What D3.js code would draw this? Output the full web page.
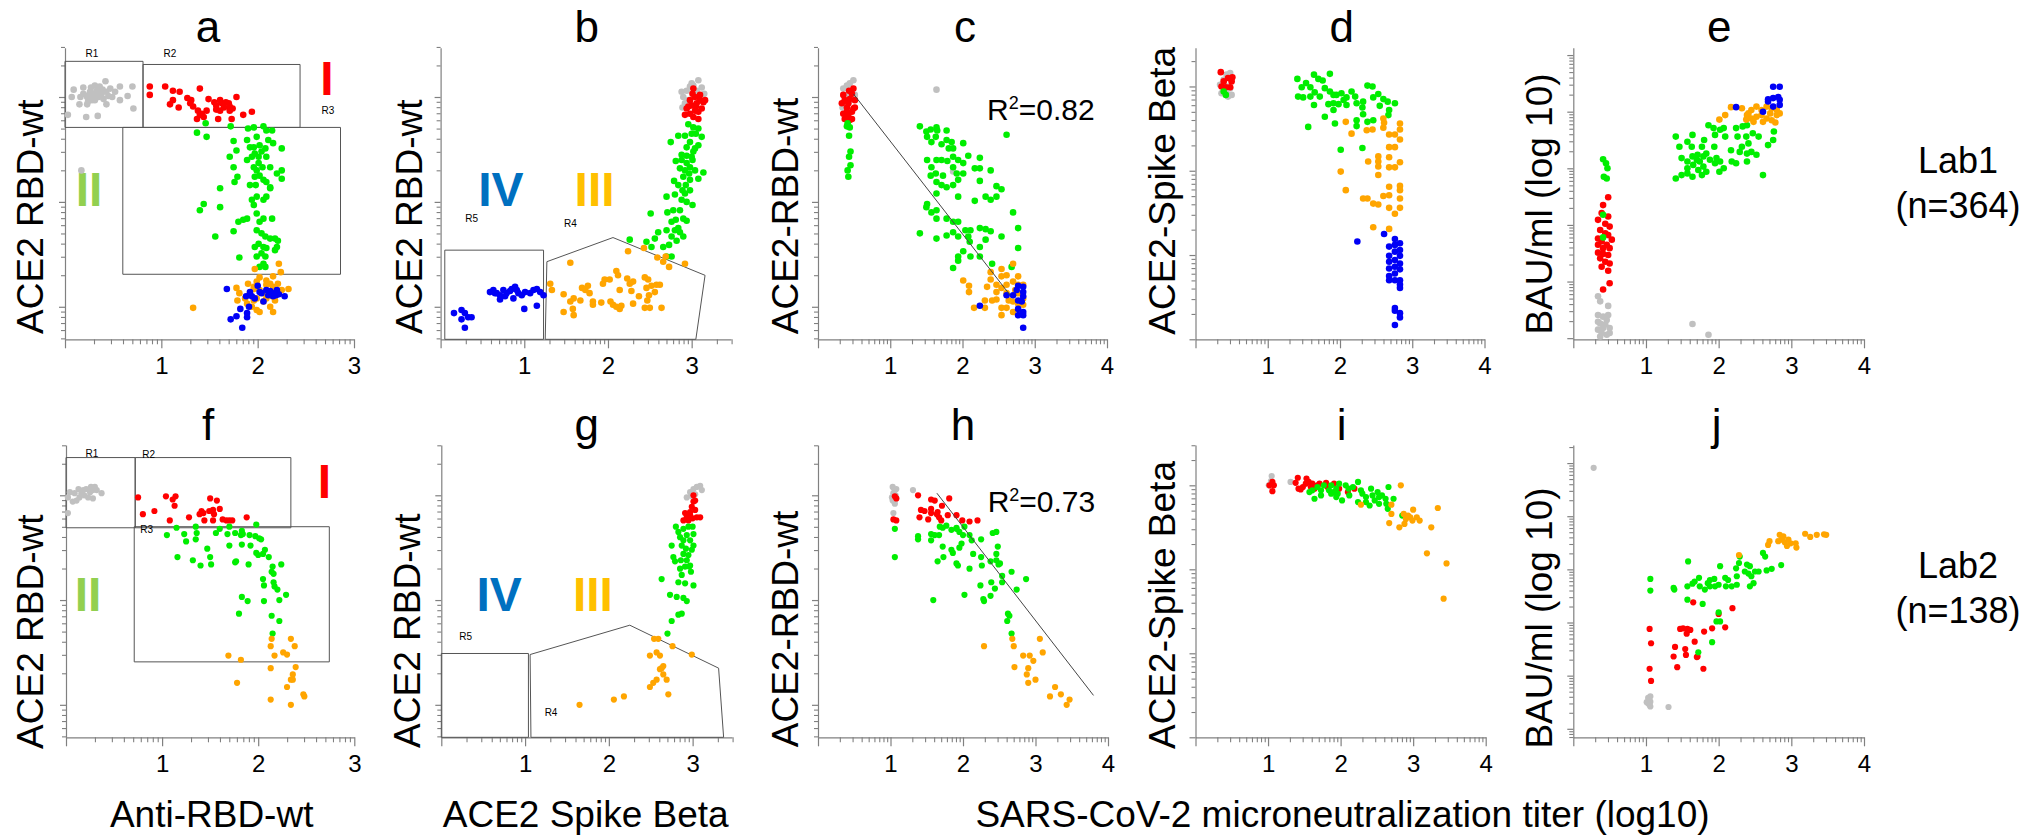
<!DOCTYPE html>
<html><head><meta charset="utf-8">
<script src="https://cdn.jsdelivr.net/npm/d3@7"></script>
<style>
body{margin:0;background:#fff}
svg{display:block}
text{font-family:"Liberation Sans",Arial,sans-serif;fill:#000}
</style>
</head><body>
<svg id="chart" width="2026" height="837"></svg>
<script>
// ---------------- DATA (log10 units) ----------------
// Panel a: Anti-RBD-wt (x) vs ACE2 RBD-wt (y), Lab1
const a_gray=[[0.03,2.83],[0.09,3.07],[0.07,3.00],[0.16,3.00],[0.15,2.93],[0.19,3.09],[0.22,2.81],[0.23,2.93],[0.25,3.02],[0.27,3.09],[0.29,3.03],[0.31,2.97],[0.33,3.06],[0.35,3.00],[0.36,3.10],[0.38,3.03],[0.42,3.15],[0.43,2.93],[0.34,2.82],[0.43,3.05],[0.47,3.08],[0.49,3.00],[0.52,3.05],[0.57,3.10],[0.57,2.97],[0.65,3.01],[0.70,3.10],[0.71,2.89],[0.23,3.00],[0.19,3.03],[0.28,2.97],[0.40,2.98],[0.31,3.11],[0.26,3.05],[0.30,3.00],[0.32,3.04],[0.28,2.99],[0.36,3.02],[0.24,2.96],[0.39,3.07],[0.45,3.01],[0.17,2.30]];
const a_red=[[0.88,3.10],[0.88,3.02],[1.04,3.10],[1.12,3.06],[1.19,3.05],[1.09,2.93],[1.12,2.97],[1.18,2.90],[1.27,2.99],[1.31,2.97],[1.33,2.91],[1.40,3.08],[1.40,2.83],[1.37,2.79],[1.38,2.87],[1.42,2.84],[1.49,2.98],[1.55,2.95],[1.57,2.92],[1.59,2.79],[1.61,2.97],[1.63,2.94],[1.65,2.90],[1.67,2.95],[1.71,2.91],[1.71,2.87],[1.73,2.79],[1.74,2.89],[1.78,3.00],[1.85,2.83],[1.94,2.86],[1.30,2.94],[1.44,2.81],[1.61,2.87],[1.70,2.94],[1.47,2.87],[1.57,2.88]];
const a_green=[[1.37,2.66],[1.46,2.75],[1.47,2.62],[1.72,2.72],[1.75,2.58],[1.90,2.70],[1.96,2.71],[2.06,2.72],[2.09,2.68],[2.15,2.68],[1.89,2.59],[1.99,2.62],[2.02,2.54],[1.92,2.52],[2.08,2.51],[2.11,2.59],[2.16,2.56],[2.25,2.51],[1.71,2.43],[1.78,2.49],[1.89,2.40],[1.94,2.43],[1.97,2.46],[2.01,2.37],[2.09,2.43],[2.13,2.33],[2.20,2.27],[2.25,2.30],[2.25,2.22],[1.75,2.33],[1.79,2.24],[1.76,2.19],[1.96,2.33],[1.99,2.30],[1.97,2.24],[2.02,2.25],[2.06,2.21],[2.09,2.19],[2.13,2.13],[1.92,2.16],[1.94,2.02],[1.99,2.05],[2.06,2.02],[2.09,2.05],[2.13,2.14],[1.61,2.13],[1.44,1.98],[1.40,1.92],[1.61,1.95],[1.96,1.97],[1.99,1.89],[2.02,1.81],[1.85,1.83],[1.80,1.81],[1.89,1.84],[1.75,1.72],[1.56,1.67],[2.06,1.84],[2.15,1.84],[1.99,1.73],[2.04,1.70],[2.08,1.67],[2.13,1.65],[2.18,1.65],[2.21,1.63],[2.01,1.60],[2.06,1.57],[2.09,1.56],[2.18,1.54],[1.97,1.57],[2.20,1.57],[1.99,1.48],[2.08,1.48],[1.81,1.47],[2.06,1.41],[2.02,1.38],[2.08,1.38],[2.04,1.51],[1.96,2.52],[2.01,2.43],[2.04,2.48],[2.05,2.33],[1.98,2.16]];
const a_orange=[[2.22,1.41],[2.24,1.33],[2.16,1.29],[2.02,1.28],[1.97,1.36],[1.90,1.22],[1.96,1.19],[2.09,1.21],[2.16,1.19],[2.21,1.22],[2.32,1.17],[1.78,1.18],[1.81,1.13],[1.79,1.06],[1.87,1.08],[1.92,1.13],[1.96,1.06],[1.99,1.08],[2.06,1.05],[2.09,1.08],[2.15,1.10],[2.02,1.16],[2.06,1.13],[1.94,1.00],[1.99,0.97],[2.02,0.95],[2.13,1.00],[2.16,0.95],[1.89,1.03],[1.96,1.17],[2.09,1.25],[2.18,1.06],[2.25,1.16],[2.13,1.22],[1.99,1.24],[1.33,0.99]];
const a_blue=[[1.68,1.17],[1.72,0.88],[1.78,0.91],[1.82,0.98],[1.84,0.80],[1.89,0.90],[1.89,0.94],[1.88,1.10],[1.92,1.14],[2.00,1.20],[2.02,1.14],[2.04,1.13],[2.09,1.16],[2.11,1.11],[2.15,1.13],[2.16,1.10],[2.20,1.16],[2.22,1.12],[2.28,1.10],[1.94,1.10],[1.97,1.08],[1.91,1.00],[2.06,1.05],[2.13,1.15],[2.19,1.11]];
// Panel b: ACE2 Spike Beta (x) vs ACE2 RBD-wt (y), Lab1
const b_gray=[[2.88,3.05],[2.90,3.00],[2.94,3.06],[2.98,3.10],[3.02,3.11],[3.08,3.16],[3.12,3.09],[3.15,3.03],[2.92,2.94],[2.89,2.90],[3.10,2.97],[2.96,2.97],[3.06,3.06],[3.02,3.03],[3.00,3.13]];
const b_red=[[3.02,3.08],[3.04,3.00],[2.98,2.97],[3.00,2.92],[3.06,2.94],[3.10,2.97],[3.14,2.95],[2.94,2.89],[2.98,2.84],[3.02,2.81],[3.08,2.86],[3.12,2.89],[2.92,2.83],[3.04,2.87],[3.08,2.79],[3.16,2.97],[3.01,3.03],[2.96,2.91],[3.10,3.02],[3.05,2.91]];
const b_green=[[2.96,2.74],[3.02,2.71],[3.08,2.70],[3.12,2.62],[3.00,2.65],[2.92,2.63],[2.84,2.63],[2.75,2.57],[2.98,2.57],[3.04,2.51],[3.08,2.54],[2.94,2.52],[2.88,2.45],[2.94,2.44],[3.00,2.43],[3.02,2.48],[2.81,2.39],[2.88,2.40],[2.94,2.37],[2.98,2.33],[2.86,2.32],[2.92,2.30],[3.04,2.30],[3.14,2.28],[3.08,2.22],[2.90,2.24],[2.98,2.21],[2.79,2.20],[2.84,2.16],[2.93,2.16],[2.89,2.11],[2.80,2.07],[2.70,2.05],[2.88,2.02],[2.94,2.00],[3.01,1.97],[2.78,1.92],[2.71,1.90],[2.51,1.89],[2.86,1.92],[2.90,1.84],[2.94,1.82],[2.81,1.83],[2.76,1.81],[2.70,1.73],[2.80,1.73],[2.86,1.71],[2.90,1.67],[2.76,1.67],[2.82,1.63],[2.60,1.71],[2.56,1.65],[2.52,1.57],[2.46,1.62],[2.66,1.57],[2.73,1.59],[2.26,1.64],[2.70,1.48],[2.76,1.48],[2.84,1.75],[2.98,2.11],[2.92,2.08],[2.97,2.27],[3.01,2.40],[3.05,2.65]];
const b_orange=[[2.24,1.53],[2.43,1.56],[2.59,1.47],[2.69,1.48],[2.66,1.43],[2.73,1.38],[2.92,1.41],[1.55,1.42],[1.31,1.22],[1.33,1.16],[1.47,1.12],[1.55,1.05],[1.59,1.08],[1.67,1.06],[1.58,0.98],[1.47,0.95],[1.59,0.92],[1.69,1.18],[1.76,1.20],[1.78,1.13],[1.82,1.05],[1.82,1.02],[1.92,1.04],[1.96,1.26],[2.02,1.26],[2.10,1.34],[2.12,1.30],[2.03,1.05],[2.06,1.02],[2.10,1.00],[2.14,0.98],[2.16,1.01],[2.23,1.27],[2.26,1.22],[2.30,1.24],[2.14,1.16],[2.28,1.15],[2.37,1.10],[2.44,1.28],[2.48,1.26],[2.46,1.18],[2.52,1.20],[2.58,1.21],[2.62,1.21],[2.56,1.14],[2.49,1.11],[2.47,1.06],[2.44,0.99],[2.50,0.99],[2.64,0.99],[2.30,1.03],[1.94,1.22],[1.73,1.16]];
const b_blue=[[0.16,0.94],[0.25,0.97],[0.29,0.94],[0.25,0.88],[0.33,0.90],[0.37,0.90],[0.29,0.80],[0.59,1.14],[0.63,1.16],[0.67,1.13],[0.71,1.11],[0.75,1.16],[0.79,1.13],[0.83,1.15],[0.89,1.19],[0.91,1.16],[0.93,1.13],[0.97,1.11],[1.01,1.14],[1.07,1.13],[1.11,1.16],[1.15,1.17],[1.19,1.14],[1.23,1.11],[0.71,1.07],[0.87,1.08],[1.00,0.98],[1.15,1.01],[0.65,1.13],[0.77,1.10],[0.85,1.17]];
// Panel c: microneutralization titer (x) vs ACE2-RBD-wt (y), Lab1
const c_gray=[[0.35,3.08],[0.40,3.11],[0.44,3.13],[0.49,3.16],[0.37,3.00],[0.42,3.03],[0.47,3.06],[0.51,3.02],[0.34,2.90],[0.40,2.95],[0.44,2.97],[1.64,3.07],[1.87,2.29]];
const c_red=[[0.35,3.02],[0.37,2.97],[0.40,2.90],[0.42,2.94],[0.44,2.98],[0.47,3.03],[0.49,3.08],[0.51,2.97],[0.35,2.84],[0.37,2.79],[0.42,2.83],[0.47,2.86],[0.49,2.89],[0.44,2.78],[0.40,2.86],[0.51,2.90],[0.33,2.94],[0.47,2.79],[0.43,3.06]];
const c_green=[[0.41,2.75],[0.44,2.71],[0.43,2.63],[0.45,2.48],[0.43,2.43],[0.45,2.35],[0.41,2.30],[0.42,2.24],[0.40,2.72],[1.41,2.72],[1.50,2.67],[1.51,2.62],[1.56,2.69],[1.64,2.71],[1.65,2.68],[1.63,2.62],[1.78,2.68],[1.57,2.57],[1.71,2.55],[1.78,2.59],[1.85,2.57],[1.81,2.51],[1.87,2.51],[2.01,2.56],[1.51,2.40],[1.64,2.40],[1.71,2.40],[1.79,2.39],[1.87,2.43],[1.94,2.40],[2.01,2.37],[1.57,2.33],[1.63,2.27],[1.73,2.25],[1.87,2.33],[1.92,2.27],[2.01,2.27],[2.08,2.44],[2.24,2.42],[2.17,2.32],[2.24,2.32],[2.39,2.30],[1.56,2.25],[1.64,2.19],[1.71,2.16],[1.78,2.14],[1.87,2.16],[1.94,2.21],[1.94,2.05],[1.64,2.08],[1.51,1.98],[1.50,1.95],[1.57,1.90],[1.64,1.92],[1.64,1.84],[1.78,1.84],[1.87,1.81],[1.94,1.81],[1.78,1.68],[1.87,1.71],[1.94,1.67],[2.04,1.73],[2.11,1.73],[2.17,2.01],[2.32,2.05],[2.39,2.02],[2.47,2.05],[2.47,2.15],[2.54,2.12],[2.24,2.20],[2.24,1.75],[2.32,1.74],[2.39,1.72],[2.32,1.64],[2.08,1.67],[2.01,1.53],[1.94,1.48],[1.87,1.37],[1.94,1.44],[2.11,1.48],[2.24,1.57],[2.41,1.41],[2.54,1.67],[2.70,1.90],[2.77,1.75],[2.77,1.56],[2.68,1.38],[2.61,2.64],[1.41,1.70],[1.64,1.65],[2.10,1.62],[2.24,1.48]];
const c_orange=[[2.01,1.25],[2.09,1.20],[2.09,1.14],[2.16,0.99],[2.31,0.99],[2.31,1.06],[2.39,1.33],[2.39,1.26],[2.41,1.06],[2.47,1.07],[2.54,1.36],[2.54,1.29],[2.54,1.18],[2.54,0.99],[2.54,0.92],[2.61,1.30],[2.61,1.21],[2.61,1.13],[2.61,0.99],[2.70,1.41],[2.70,1.24],[2.70,1.05],[2.70,0.95],[2.77,1.29],[2.77,1.21],[2.77,1.13],[2.77,1.03],[2.84,1.21],[2.84,1.08],[2.84,1.02],[2.47,1.21],[2.34,1.19],[2.47,1.14],[2.64,1.06],[2.73,1.16]];
const c_blue=[[2.24,1.01],[2.61,1.11],[2.70,1.11],[2.77,1.20],[2.77,1.06],[2.77,0.98],[2.77,0.92],[2.84,1.19],[2.84,1.14],[2.84,1.10],[2.84,0.95],[2.84,0.92],[2.84,0.80],[2.75,1.16],[2.82,1.05]];
// Panel d: microneutralization titer (x) vs ACE2-Spike Beta (y), Lab1
const d_gray=[[0.34,4.02],[0.39,4.08],[0.43,4.14],[0.48,4.16],[0.50,4.08],[0.45,4.00],[0.41,3.96],[0.36,3.92],[0.50,3.90],[0.45,3.88],[0.39,4.04],[0.43,3.92],[0.48,3.98]];
const d_red=[[0.35,4.17],[0.39,4.06],[0.45,4.10],[0.50,4.06],[0.48,3.99],[0.42,3.99],[0.51,4.11],[0.36,4.00]];
const d_green=[[0.39,3.94],[0.42,3.90],[1.41,4.09],[1.47,3.99],[1.53,4.04],[1.59,3.99],[1.64,4.14],[1.70,4.09],[1.76,4.07],[1.86,4.15],[1.42,3.88],[1.49,3.87],[1.59,3.88],[1.65,3.93],[1.72,3.88],[1.79,3.98],[1.86,3.94],[1.91,3.90],[1.95,3.90],[2.02,3.92],[2.09,3.87],[2.16,3.94],[2.21,3.88],[1.84,3.79],[1.91,3.80],[1.98,3.79],[2.05,3.84],[2.09,3.78],[2.23,3.80],[2.32,3.82],[2.31,3.75],[2.38,4.01],[2.45,4.00],[2.46,3.87],[2.53,3.91],[2.60,3.85],[2.66,3.82],[2.76,3.80],[2.55,3.77],[2.68,3.72],[2.67,3.66],[2.32,3.67],[2.23,3.60],[2.23,3.53],[2.38,3.58],[2.46,3.60],[1.79,3.64],[1.93,3.56],[1.91,3.72],[1.56,3.52],[2.01,3.25],[2.31,3.27],[1.64,3.78]];
const d_orange=[[2.08,3.58],[2.16,3.44],[2.37,3.48],[2.45,3.49],[2.60,3.62],[2.60,3.51],[2.68,3.43],[2.76,3.43],[2.83,3.56],[2.83,3.49],[2.83,3.37],[2.68,3.28],[2.76,3.28],[2.53,3.17],[2.53,3.11],[2.39,3.11],[2.53,3.05],[2.53,2.95],[2.68,3.16],[2.68,3.04],[2.76,3.04],[2.83,3.10],[2.01,2.99],[2.08,2.77],[2.32,2.67],[2.38,2.67],[2.46,2.61],[2.53,2.60],[2.60,2.70],[2.68,2.81],[2.68,2.71],[2.68,2.56],[2.76,2.49],[2.83,2.82],[2.83,2.77],[2.83,2.67],[2.83,2.56],[2.46,2.33],[2.68,2.31],[2.61,3.57]];
const d_blue=[[2.24,2.16],[2.61,2.25],[2.76,2.19],[2.76,2.12],[2.83,2.14],[2.68,2.10],[2.83,2.06],[2.76,2.04],[2.68,1.99],[2.83,1.99],[2.76,1.94],[2.68,1.92],[2.83,1.90],[2.76,1.86],[2.68,1.84],[2.83,1.83],[2.76,1.78],[2.68,1.75],[2.76,1.70],[2.83,1.70],[2.68,1.70],[2.83,1.65],[2.83,1.61],[2.76,1.37],[2.76,1.34],[2.83,1.31],[2.83,1.26],[2.76,1.17]];
// Panel e: microneutralization titer (x) vs BAU/ml (y), Lab1
const e_gray=[[0.34,0.74],[0.37,0.65],[0.48,0.57],[0.34,0.41],[0.41,0.38],[0.46,0.32],[0.37,0.26],[0.44,0.24],[0.50,0.18],[0.34,0.15],[0.39,0.09],[0.46,0.06],[0.37,0.03],[0.50,0.09],[0.41,0.18],[0.48,0.41],[0.34,0.29],[1.64,0.25],[1.86,0.06]];
const e_red=[[0.48,2.49],[0.41,2.35],[0.39,2.21],[0.48,2.15],[0.34,2.09],[0.44,2.02],[0.50,1.97],[0.37,1.91],[0.44,1.85],[0.48,1.82],[0.34,1.76],[0.39,1.71],[0.46,1.65],[0.50,1.59],[0.34,1.51],[0.41,1.49],[0.48,1.47],[0.37,1.41],[0.44,1.35],[0.50,1.32],[0.39,1.26],[0.48,1.19],[0.41,0.86],[0.50,0.97],[0.34,1.65],[0.53,1.74],[0.41,1.59]];
const e_green=[[0.41,3.16],[0.45,3.09],[0.47,3.00],[0.42,2.85],[0.46,2.82],[0.41,2.18],[0.41,1.78],[1.41,3.56],[1.46,3.38],[1.57,3.47],[1.64,3.59],[1.63,3.38],[1.49,3.18],[1.57,3.12],[1.64,3.21],[1.71,3.24],[1.77,3.38],[1.80,3.50],[1.86,3.76],[1.93,3.71],[1.95,3.59],[2.02,3.68],[2.07,3.71],[2.09,3.56],[1.94,3.38],[1.83,3.26],[1.88,3.15],[1.95,3.09],[2.02,3.12],[2.01,2.94],[2.07,3.00],[2.17,3.32],[2.24,3.71],[2.26,3.56],[2.33,3.74],[2.38,3.56],[2.39,3.76],[2.32,3.38],[2.39,3.26],[2.47,3.62],[2.55,3.56],[2.45,3.29],[2.52,3.24],[2.24,3.09],[2.18,3.12],[2.39,3.12],[2.61,2.88],[2.68,3.41],[2.75,3.50],[2.76,3.65],[1.41,2.82],[1.49,2.88],[1.57,2.91],[1.64,2.85],[1.72,2.97],[1.77,2.88],[1.79,3.03],[1.83,2.94],[1.57,3.00],[1.65,3.06],[1.74,3.12],[1.97,3.18],[2.29,3.29],[2.41,3.44],[1.70,3.15],[1.79,3.21]];
const e_orange=[[2.01,3.86],[2.09,3.94],[2.17,4.08],[2.32,4.06],[2.39,3.94],[2.45,4.03],[2.52,4.09],[2.59,4.03],[2.66,4.09],[2.73,4.06],[2.80,4.03],[2.84,3.97],[2.38,3.86],[2.45,3.88],[2.52,3.91],[2.59,3.94],[2.66,3.88],[2.73,3.85],[2.80,3.94],[2.41,3.97],[2.48,3.82],[2.61,3.82],[2.78,3.81],[2.71,3.97]];
const e_blue=[[2.24,4.08],[2.61,4.00],[2.68,4.22],[2.75,4.24],[2.82,4.26],[2.84,4.21],[2.75,4.44],[2.84,4.44],[2.75,4.09],[2.84,4.12],[2.68,4.18]];
// Panel f: Anti-RBD-wt (x) vs ACE2 RBD-wt (y), Lab2
const f_gray=[[0.02,2.98],[0.02,2.83],[0.04,3.03],[0.09,3.02],[0.11,2.95],[0.14,2.98],[0.18,3.05],[0.19,3.00],[0.21,3.06],[0.25,3.03],[0.26,3.08],[0.28,3.05],[0.30,3.08],[0.28,2.97],[0.16,3.02],[0.13,3.06],[0.23,2.98],[0.37,3.02],[0.32,3.05],[0.07,2.94]];
const f_red=[[0.75,2.98],[0.80,2.82],[0.92,2.85],[1.04,2.99],[1.11,2.96],[1.13,2.90],[1.14,2.99],[1.08,2.76],[1.28,2.79],[1.39,2.82],[1.41,2.85],[1.44,2.76],[1.49,2.85],[1.50,2.97],[1.54,2.82],[1.57,2.95],[1.53,2.86],[1.60,2.87],[1.63,2.77],[1.67,2.76],[1.70,2.76],[1.73,2.76],[1.88,2.79],[1.53,2.76],[1.43,2.83]];
const f_green=[[1.05,2.62],[1.15,2.69],[1.23,2.63],[1.25,2.56],[1.35,2.70],[1.36,2.64],[1.35,2.58],[1.16,2.41],[1.32,2.38],[1.40,2.33],[1.47,2.49],[1.50,2.41],[1.51,2.34],[1.56,2.64],[1.60,2.68],[1.68,2.63],[1.70,2.52],[1.76,2.64],[1.82,2.62],[1.83,2.53],[1.77,2.37],[1.76,2.36],[1.90,2.34],[1.92,2.52],[1.91,2.62],[1.97,2.61],[1.98,2.72],[1.98,2.45],[2.01,2.59],[2.03,2.58],[2.00,2.43],[2.05,2.44],[2.11,2.41],[2.07,2.48],[2.05,2.20],[2.06,2.14],[2.15,2.32],[2.16,2.25],[2.14,2.27],[2.16,2.17],[2.17,2.13],[2.20,2.10],[2.24,2.34],[2.29,2.05],[2.22,2.00],[2.06,1.99],[1.83,2.03],[1.89,1.99],[1.80,1.87],[2.14,1.85],[2.22,1.80],[2.15,1.68],[1.84,2.63],[1.83,2.66],[1.70,2.70]];
const f_orange=[[2.14,1.63],[2.34,1.63],[2.13,1.56],[2.38,1.56],[2.17,1.47],[2.26,1.50],[2.30,1.48],[1.69,1.47],[1.82,1.43],[2.13,1.35],[2.39,1.36],[2.36,1.29],[2.34,1.24],[2.36,1.24],[2.30,1.17],[1.78,1.21],[2.13,1.05],[2.34,1.00],[2.47,1.10],[2.48,1.08]];
// Panel g: ACE2 Spike Beta (x) vs ACE2 RBD-wt (y), Lab2
const g_gray=[[2.93,2.98],[2.97,3.03],[3.01,3.06],[3.05,3.08],[3.09,3.09],[3.11,3.05],[3.03,3.01],[2.99,2.99]];
const g_red=[[3.01,3.00],[3.03,2.95],[2.99,2.89],[2.97,2.84],[3.03,2.86],[3.05,2.79],[2.93,2.79],[2.89,2.76],[2.95,2.76],[3.00,2.78],[3.09,2.79],[2.97,2.81],[3.01,2.94],[2.91,2.83]];
const g_green=[[2.80,2.70],[2.83,2.65],[2.89,2.68],[2.95,2.70],[3.00,2.70],[3.01,2.63],[2.93,2.62],[2.85,2.60],[2.97,2.57],[3.01,2.52],[2.75,2.52],[2.87,2.52],[2.92,2.49],[2.99,2.48],[2.95,2.43],[2.89,2.44],[2.77,2.41],[2.79,2.37],[2.86,2.38],[2.93,2.38],[2.97,2.33],[2.91,2.32],[2.85,2.30],[2.98,2.27],[2.87,2.24],[2.83,2.17],[2.91,2.16],[3.01,2.14],[2.63,2.20],[2.73,2.05],[2.81,2.03],[2.89,2.02],[2.93,1.99],[2.87,1.87],[2.83,1.86],[2.75,1.80],[2.70,1.68],[2.89,2.57],[2.96,2.32]];
const g_orange=[[2.54,1.63],[2.59,1.63],[2.76,1.56],[2.99,1.48],[2.57,1.50],[2.61,1.47],[2.49,1.47],[2.63,1.35],[2.65,1.37],[2.61,1.34],[2.65,1.29],[2.69,1.24],[2.57,1.24],[2.53,1.21],[2.49,1.17],[2.71,1.10],[2.18,1.08],[2.06,1.05],[1.65,1.00]];
// Panel h: microneutralization titer (x) vs ACE2-RBD-wt (y), Lab2
const h_gray=[[1.03,3.08],[1.06,3.05],[1.08,3.06],[1.04,3.02],[1.07,3.00],[1.03,2.95],[1.08,2.97],[1.06,2.92],[1.04,2.83],[1.31,3.05],[1.02,2.98]];
const h_red=[[1.06,2.99],[1.08,2.97],[1.04,2.77],[1.08,2.76],[1.38,3.00],[1.56,2.96],[1.61,2.95],[1.81,2.97],[1.71,2.90],[1.42,2.86],[1.47,2.85],[1.56,2.87],[1.56,2.83],[1.64,2.82],[1.67,2.79],[1.79,2.81],[1.40,2.79],[1.52,2.77],[1.70,2.76],[1.91,2.81],[1.99,2.76],[2.09,2.75],[2.20,2.76],[1.65,2.84]];
const h_green=[[1.06,2.68],[1.06,2.41],[1.38,2.61],[1.38,2.58],[1.56,2.63],[1.61,2.62],[1.68,2.70],[1.72,2.69],[1.77,2.71],[1.84,2.67],[1.91,2.69],[1.95,2.65],[2.00,2.62],[2.02,2.70],[1.56,2.57],[1.67,2.62],[1.72,2.51],[1.84,2.48],[1.86,2.45],[1.95,2.50],[1.98,2.54],[2.09,2.62],[2.12,2.57],[2.14,2.44],[1.73,2.41],[1.65,2.37],[1.91,2.35],[1.93,2.33],[2.09,2.30],[2.25,2.58],[2.25,2.41],[2.26,2.33],[2.38,2.37],[2.41,2.64],[2.46,2.65],[2.48,2.51],[2.46,2.44],[2.46,2.38],[2.49,2.34],[2.51,2.35],[2.54,2.23],[2.54,2.17],[2.39,2.17],[2.44,2.11],[2.24,2.14],[2.38,2.04],[2.28,2.01],[2.29,1.99],[2.02,2.05],[1.59,2.00],[2.67,2.27],[2.74,2.10],[2.87,2.20],[2.62,1.87],[2.64,1.85],[2.61,1.80],[2.67,1.68],[1.91,2.68]];
const h_orange=[[2.68,1.63],[3.06,1.63],[2.29,1.56],[2.70,1.56],[3.10,1.50],[2.83,1.47],[2.92,1.47],[2.97,1.42],[2.71,1.36],[2.90,1.35],[2.88,1.29],[2.90,1.21],[3.00,1.24],[3.27,1.17],[3.35,1.10],[3.47,1.05],[3.20,1.08],[3.43,1.00]];
// Panel i: microneutralization titer (x) vs ACE2-Spike Beta (y), Lab2
const i_gray=[[1.05,4.11],[1.04,4.05],[1.31,4.04],[1.01,4.00]];
const i_red=[[1.06,4.04],[1.08,4.00],[1.02,4.00],[1.06,3.93],[1.41,4.09],[1.53,4.08],[1.38,4.03],[1.45,3.95],[1.42,3.96],[1.52,4.02],[1.56,4.04],[1.61,4.02],[1.64,3.96],[1.68,4.00],[1.80,4.03],[1.91,4.02],[1.98,3.96],[2.10,3.92],[2.19,3.96],[1.48,3.98],[1.59,3.98],[1.71,4.02],[1.82,3.98]];
const i_green=[[1.57,3.92],[1.64,3.84],[1.61,3.94],[1.68,3.98],[1.73,3.94],[1.77,4.00],[1.84,3.94],[1.87,4.00],[1.90,3.92],[1.94,3.96],[1.96,3.90],[1.98,4.02],[2.02,3.82],[2.07,4.00],[2.11,3.96],[2.17,3.98],[2.24,4.04],[2.28,3.94],[2.30,3.90],[2.24,3.80],[2.35,3.86],[2.40,3.76],[2.42,3.96],[2.44,3.88],[2.47,3.82],[2.51,3.92],[2.53,3.86],[2.57,3.88],[2.62,3.84],[2.66,3.98],[2.73,3.84],[2.63,3.78],[2.65,3.72],[1.87,3.90],[1.94,3.86],[1.73,3.88],[2.12,3.88],[2.35,3.80],[2.53,3.78],[2.85,3.64]];
const i_orange=[[2.83,4.00],[2.28,3.77],[2.70,3.77],[2.70,3.66],[2.67,3.55],[2.87,3.66],[2.93,3.64],[2.90,3.60],[2.96,3.62],[3.00,3.71],[2.99,3.58],[3.05,3.62],[3.09,3.58],[2.88,3.54],[2.81,3.50],[3.34,3.73],[3.25,3.50],[3.19,3.19],[3.46,3.07],[3.42,2.65]];
// Panel j: microneutralization titer (x) vs BAU/ml (y), Lab2
const j_gray=[[1.03,0.58],[1.06,0.51],[1.05,0.45],[1.06,0.42],[1.03,0.48],[1.06,0.61],[1.31,0.41],[1.01,0.50],[0.28,4.91]];
const j_red=[[1.05,1.88],[1.07,1.61],[1.05,1.13],[1.07,0.90],[1.40,1.54],[1.38,1.36],[1.43,1.16],[1.54,1.50],[1.55,1.39],[1.47,1.88],[1.51,1.89],[1.57,1.88],[1.61,1.86],[1.56,1.79],[1.65,2.38],[1.67,1.64],[1.70,1.35],[1.71,1.36],[1.79,1.13],[1.80,1.83],[1.91,1.89],[2.00,2.16],[2.09,1.91],[2.19,2.27]];
const j_green=[[1.06,2.82],[1.06,2.60],[1.38,2.65],[1.39,2.62],[1.58,3.15],[1.57,2.68],[1.57,2.43],[1.64,2.73],[1.67,2.77],[1.73,2.84],[1.74,2.68],[1.78,2.35],[1.81,2.62],[1.85,2.74],[1.88,2.80],[1.94,2.82],[1.95,2.68],[2.00,2.71],[2.02,3.06],[2.09,2.84],[2.10,2.68],[2.13,2.80],[2.24,3.02],[2.25,2.87],[2.25,2.71],[2.28,3.12],[2.29,3.24],[2.36,2.96],[2.39,3.09],[2.41,2.92],[2.43,3.06],[2.45,2.87],[2.43,2.68],[2.48,2.74],[2.50,2.96],[2.55,2.96],[2.61,3.31],[2.64,3.24],[2.66,2.98],[2.73,3.01],[2.86,3.08],[2.00,2.19],[2.02,2.02],[1.97,2.02],[1.91,1.63],[1.72,1.44],[1.88,2.68],[2.18,2.68]];
const j_orange=[[2.28,3.27],[2.68,3.46],[2.70,3.53],[2.84,3.65],[2.87,3.56],[2.91,3.51],[2.96,3.56],[2.99,3.49],[2.94,3.44],[3.06,3.49],[3.07,3.41],[3.19,3.67],[3.26,3.61],[3.35,3.65],[3.45,3.66],[3.48,3.65],[2.82,3.53],[2.89,3.62]];

// Gates (data coordinates)
const a_gates=[[[0,2.71],[0.81,2.71],[0.81,3.34],[0,3.34]],[[0.81,2.71],[2.44,2.71],[2.44,3.31],[0.81,3.31]],[[0.60,1.31],[2.86,1.31],[2.86,2.71],[0.60,2.71]]];
const a_gateLabels=[["R1",0.28,3.41],["R2",1.09,3.41],["R3",2.73,2.875]];
const b_gates=[[[0.05,0.69],[1.23,0.69],[1.23,1.54],[0.05,1.54]],[[1.27,1.43],[2.06,1.66],[3.16,1.30],[3.05,0.69],[1.25,0.69]]];
const b_gateLabels=[["R5",0.37,1.84],["R4",1.55,1.79]];
const f_gates=[[[0,2.69],[0.72,2.69],[0.72,3.36],[0,3.36]],[[0.72,2.69],[2.34,2.69],[2.34,3.36],[0.72,3.36]],[[0.71,1.41],[2.74,1.41],[2.74,2.70],[0.71,2.70]]];
const f_gateLabels=[["R1",0.27,3.40],["R2",0.86,3.39],["R3",0.84,2.67]];
const g_gates=[[[0,0.69],[1.04,0.69],[1.04,1.49],[0,1.49]],[[1.06,1.48],[2.25,1.76],[3.31,1.35],[3.37,0.69],[1.07,0.69]]];
const g_gateLabels=[["R5",0.29,1.65],["R4",1.31,0.93]];
// Regression fits
const c_fit=[[0.49,3.03],[2.66,1.11]];
const h_fit=[[1.64,3.02],[3.80,1.09]];
const c_r2="0.82", h_r2="0.73";
// Group annotations: [text, color, x, y]
const a_groups=[["I","#ff0000",2.72,3.02],["II","#92d050",0.25,1.96]];
const b_groups=[["IV","#0070c0",0.72,1.96],["III","#ffc000",1.84,1.96]];
const f_groups=[["I","#ff0000",2.69,2.97],["II","#92d050",0.23,1.90]];
const g_groups=[["IV","#0070c0",0.69,1.90],["III","#ffc000",1.81,1.90]];
const xTickLabels3=["1","2","3"], xTickLabels4=["1","2","3","4"];

// ---------------- LAYOUT ----------------
const COLORS={gray:"#c0c0c0",red:"#ff0000",green:"#00ee00",orange:"#ffa500",blue:"#0000f5"};
const TOP=[339.3,47.7], BOT=[737.3,445];
const panels=[
 {id:"a",xr:[65,354],yr:TOP,xd:[0,3],yd:[0.69,3.47],r:3.3,title:[208,41.7],ylab:["ACE2 RBD-wt",43.3,216.7],labs:xTickLabels3,
  pts:{gray:a_gray,red:a_red,green:a_green,orange:a_orange,blue:a_blue},gates:a_gates,gl:a_gateLabels,groups:a_groups},
 {id:"b",xr:[440.6,731],yr:TOP,xd:[0,3.47],yd:[0.69,3.47],r:3.3,title:[586.7,41.7],ylab:["ACE2 RBD-wt",421.7,216.7],labs:xTickLabels3,
  pts:{gray:b_gray,red:b_red,green:b_green,orange:b_orange,blue:b_blue},gates:b_gates,gl:b_gateLabels,groups:b_groups},
 {id:"c",xr:[818,1107],yr:TOP,xd:[0,4],yd:[0.69,3.47],r:3.3,title:[965,41.7],ylab:["ACE2-RBD-wt",798.3,216],labs:xTickLabels4,
  pts:{gray:c_gray,red:c_red,green:c_green,orange:c_orange,blue:c_blue},fit:c_fit,r2:[c_r2,2.34,2.78]},
 {id:"d",xr:[1195.5,1484.5],yr:TOP,xd:[0,4],yd:[1,4.46],r:3.3,title:[1341.7,41.7],ylab:["ACE2-Spike Beta",1175,190.8],labs:xTickLabels4,
  pts:{gray:d_gray,red:d_red,green:d_green,orange:d_orange,blue:d_blue}},
 {id:"e",xr:[1573.3,1864],yr:TOP,xd:[0,4],yd:[-0.02,5.13],r:3.3,title:[1719.3,41.7],ylab:["BAU/ml (log 10)",1551.7,204],labs:xTickLabels4,
  pts:{gray:e_gray,red:e_red,green:e_green,orange:e_orange,blue:e_blue}},
 {id:"f",xr:[66,354.3],yr:BOT,xd:[0,3],yd:[0.69,3.48],r:3.1,title:[208,440],ylab:["ACE2 RBD-wt",43.3,631.7],labs:xTickLabels3,
  pts:{gray:f_gray,red:f_red,green:f_green,orange:f_orange},gates:f_gates,gl:f_gateLabels,groups:f_groups},
 {id:"g",xr:[441.3,732],yr:BOT,xd:[0,3.47],yd:[0.69,3.48],r:3.1,title:[586.7,440],ylab:["ACE2 RBD-wt",420,630.7],labs:xTickLabels3,
  pts:{gray:g_gray,red:g_red,green:g_green,orange:g_orange},gates:g_gates,gl:g_gateLabels,groups:g_groups},
 {id:"h",xr:[818,1108],yr:BOT,xd:[0,4],yd:[0.69,3.48],r:3.1,title:[963,440],ylab:["ACE2-RBD-wt",798,629],labs:xTickLabels4,
  pts:{gray:h_gray,red:h_red,green:h_green,orange:h_orange},fit:h_fit,r2:[h_r2,2.34,2.84]},
 {id:"i",xr:[1195.5,1485.7],yr:BOT,xd:[0,4],yd:[1,4.48],r:3.1,title:[1341.7,440],ylab:["ACE2-Spike Beta",1175,605],labs:xTickLabels4,
  pts:{gray:i_gray,red:i_red,green:i_green,orange:i_orange}},
 {id:"j",xr:[1573.3,1864],yr:BOT,xd:[0,4],yd:[-0.16,5.34],r:3.1,title:[1716.7,440],ylab:["BAU/ml (log 10)",1551.7,618],labs:xTickLabels4,
  pts:{gray:j_gray,red:j_red,green:j_green,orange:j_orange}}
];

const svg=d3.select("#chart");
const AX="#808080";
function logTicks(d){
  const maj=[],min=[];
  for(let k=Math.floor(d[0]);k<=Math.ceil(d[1]);k++){
    if(k>=d[0]-1e-9&&k<=d[1]+1e-9)maj.push(k);
    for(let m=2;m<=9;m++){const v=k+Math.log10(m);if(v>=d[0]&&v<=d[1]+0.01)min.push(v);}
  }
  return {maj,min};
}
panels.forEach(p=>{
  const x=d3.scaleLinear().domain(p.xd).range(p.xr);
  const y=d3.scaleLinear().domain(p.yd).range(p.yr);
  const g=svg.append("g");
  const xt=logTicks(p.xd), yt=logTicks(p.yd);
  const xMajor=d3.axisBottom(x).tickValues(xt.maj).tickSize(9).tickSizeOuter(0).tickPadding(9)
    .tickFormat(d=>d===0?"":p.labs[d-1]);
  const gx=g.append("g").attr("transform",`translate(0,${p.yr[0]})`).call(xMajor);
  gx.selectAll("path,line").attr("stroke",AX).attr("stroke-width",1.2);
  gx.selectAll("text").attr("font-size",24).attr("fill","#000").style("font-family",'"Liberation Sans",Arial,sans-serif');
  const gxm=g.append("g").attr("transform",`translate(0,${p.yr[0]})`)
    .call(d3.axisBottom(x).tickValues(xt.min).tickSize(5).tickFormat(""));
  gxm.select(".domain").remove(); gxm.selectAll("line").attr("stroke",AX).attr("stroke-width",1.1);
  const gy=g.append("g").attr("transform",`translate(${p.xr[0]},0)`)
    .call(d3.axisLeft(y).tickValues(yt.maj).tickSize(6).tickSizeOuter(0).tickFormat(""));
  gy.selectAll("path,line").attr("stroke",AX).attr("stroke-width",1.2);
  const gym=g.append("g").attr("transform",`translate(${p.xr[0]},0)`)
    .call(d3.axisLeft(y).tickValues(yt.min).tickSize(4).tickFormat(""));
  gym.select(".domain").remove(); gym.selectAll("line").attr("stroke",AX).attr("stroke-width",1.1);
  if(p.gates){
    g.selectAll(".gate").data(p.gates).join("path")
      .attr("d",pts=>d3.line().x(d=>x(d[0])).y(d=>y(d[1]))(pts)+"Z")
      .attr("fill","none").attr("stroke","#555").attr("stroke-width",1);
    g.selectAll(".gl").data(p.gl).join("text")
      .attr("x",d=>x(d[1])).attr("y",d=>y(d[2])).attr("dy","0.35em").attr("text-anchor","middle")
      .attr("font-size",10).attr("fill","#222").text(d=>d[0]);
  }
  if(p.groups){
    g.selectAll(".grp").data(p.groups).join("text")
      .attr("x",d=>x(d[2])).attr("y",d=>y(d[3])).attr("text-anchor","middle")
      .attr("font-size",48).attr("font-weight","bold").style("fill",d=>d[1]).text(d=>d[0]);
  }
  ["gray","red","green","orange","blue"].forEach(k=>{
    if(!p.pts[k])return;
    g.append("g").selectAll("circle").data(p.pts[k]).join("circle")
      .attr("cx",d=>x(d[0])).attr("cy",d=>y(d[1])).attr("r",p.r).attr("fill",COLORS[k]);
  });
  if(p.fit){
    g.append("path").attr("d",d3.line().x(d=>x(d[0])).y(d=>y(d[1]))(p.fit))
      .attr("stroke","#444").attr("stroke-width",1).attr("fill","none");
    const t=g.append("text").attr("x",x(p.r2[1])).attr("y",y(p.r2[2])).attr("font-size",30);
    t.append("tspan").text("R");
    t.append("tspan").attr("dy",-11).attr("font-size",18).text("2");
    t.append("tspan").attr("dy",11).text("="+p.r2[0]);
  }
  g.append("text").attr("x",p.title[0]).attr("y",p.title[1]).attr("text-anchor","middle").attr("font-size",44).text(p.id);
  g.append("text").attr("transform",`translate(${p.ylab[1]},${p.ylab[2]}) rotate(-90)`)
    .attr("text-anchor","middle").attr("font-size",37).text(p.ylab[0]);
});
const xl=[["Anti-RBD-wt",211.7],["ACE2 Spike Beta",585.7],["SARS-CoV-2 microneutralization titer (log10)",1342.5]];
svg.selectAll(".xl").data(xl).join("text").attr("x",d=>d[1]).attr("y",827).attr("text-anchor","middle").attr("font-size",37).text(d=>d[0]);
const labs=[["Lab1",173],["(n=364)",218],["Lab2",578],["(n=138)",623]];
svg.selectAll(".lab").data(labs).join("text").attr("x",1958).attr("y",d=>d[1]).attr("text-anchor","middle").attr("font-size",36).text(d=>d[0]);
</script>
</body></html>
